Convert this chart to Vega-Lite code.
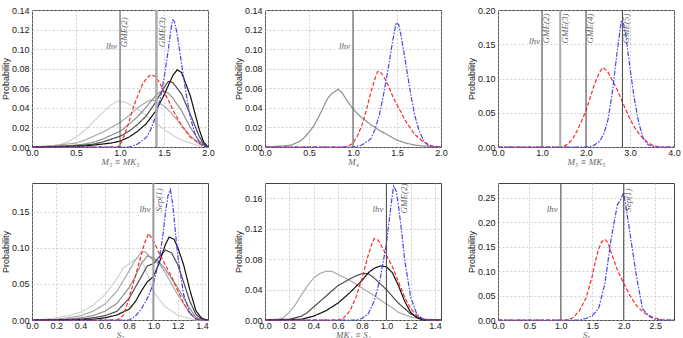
{
"$schema":"https://vega.github.io/schema/vega-lite/v6.json",
"padding":{"left":0,"top":5,"right":2,"bottom":2},
"columns":3,
"bounds":"flush",
"spacing":{"row":36,"column":57},
"config":{"view":{"stroke":"#444","strokeWidth":1},
"axis":{"grid":true,"gridColor":"#bbbbbb","gridDash":[2,2],"gridWidth":0.7,"domain":false,"ticks":false,"tickCount":40,"labelFont":"Liberation Sans","labelFontSize":9,"labelColor":"#222","labelPadding":3,"titleFont":"Liberation Sans","titleFontSize":9,"titleFontWeight":"normal","titleColor":"#222","labelFlush":false,"labelOverlap":false},
"axisX":{"titleFont":"Liberation Serif","titleFontStyle":"italic","titleColor":"#666","titleFontSize":9,"titlePadding":0,"labelPadding":1,"format":".1f"},
"axisY":{"titlePadding":1,"format":".2f"},
"line":{"strokeWidth":1.2},
"text":{"font":"Liberation Serif","fontStyle":"italic","fontSize":9,"color":"#666"}},
"concat":[
{"width":176,"height":137,"layer":[
{"data":{"values":[
{"s":"g1","x":0,"y":0},{"s":"g1","x":0.2,"y":0.001},{"s":"g1","x":0.3,"y":0.002},{"s":"g1","x":0.4,"y":0.005},{"s":"g1","x":0.5,"y":0.01},{"s":"g1","x":0.6,"y":0.017},{"s":"g1","x":0.7,"y":0.026},{"s":"g1","x":0.8,"y":0.035},{"s":"g1","x":0.9,"y":0.043},{"s":"g1","x":0.97,"y":0.047},{"s":"g1","x":1.05,"y":0.046},{"s":"g1","x":1.1,"y":0.044},{"s":"g1","x":1.2,"y":0.039},{"s":"g1","x":1.3,"y":0.032},{"s":"g1","x":1.4,"y":0.025},{"s":"g1","x":1.5,"y":0.018},{"s":"g1","x":1.6,"y":0.012},{"s":"g1","x":1.7,"y":0.007},{"s":"g1","x":1.8,"y":0.004},{"s":"g1","x":1.9,"y":0.001},{"s":"g1","x":2.0,"y":0},
{"s":"g2","x":0,"y":0},{"s":"g2","x":0.2,"y":0.001},{"s":"g2","x":0.4,"y":0.003},{"s":"g2","x":0.5,"y":0.004},{"s":"g2","x":0.6,"y":0.007},{"s":"g2","x":0.7,"y":0.011},{"s":"g2","x":0.8,"y":0.015},{"s":"g2","x":0.9,"y":0.02},{"s":"g2","x":1.0,"y":0.025},{"s":"g2","x":1.1,"y":0.032},{"s":"g2","x":1.2,"y":0.04},{"s":"g2","x":1.3,"y":0.046},{"s":"g2","x":1.35,"y":0.048},{"s":"g2","x":1.4,"y":0.047},{"s":"g2","x":1.5,"y":0.042},{"s":"g2","x":1.6,"y":0.033},{"s":"g2","x":1.7,"y":0.022},{"s":"g2","x":1.8,"y":0.011},{"s":"g2","x":1.9,"y":0.003},{"s":"g2","x":2.0,"y":0},
{"s":"g3","x":0,"y":0},{"s":"g3","x":0.4,"y":0.001},{"s":"g3","x":0.6,"y":0.003},{"s":"g3","x":0.7,"y":0.005},{"s":"g3","x":0.8,"y":0.008},{"s":"g3","x":0.9,"y":0.012},{"s":"g3","x":1.0,"y":0.016},{"s":"g3","x":1.1,"y":0.023},{"s":"g3","x":1.2,"y":0.031},{"s":"g3","x":1.3,"y":0.041},{"s":"g3","x":1.4,"y":0.052},{"s":"g3","x":1.45,"y":0.056},{"s":"g3","x":1.5,"y":0.057},{"s":"g3","x":1.55,"y":0.055},{"s":"g3","x":1.6,"y":0.05},{"s":"g3","x":1.7,"y":0.037},{"s":"g3","x":1.8,"y":0.02},{"s":"g3","x":1.9,"y":0.006},{"s":"g3","x":2.0,"y":0},
{"s":"g4","x":0,"y":0},{"s":"g4","x":0.5,"y":0.001},{"s":"g4","x":0.7,"y":0.003},{"s":"g4","x":0.8,"y":0.005},{"s":"g4","x":0.9,"y":0.008},{"s":"g4","x":1.0,"y":0.011},{"s":"g4","x":1.1,"y":0.016},{"s":"g4","x":1.2,"y":0.023},{"s":"g4","x":1.3,"y":0.032},{"s":"g4","x":1.4,"y":0.045},{"s":"g4","x":1.5,"y":0.061},{"s":"g4","x":1.55,"y":0.067},{"s":"g4","x":1.6,"y":0.066},{"s":"g4","x":1.7,"y":0.054},{"s":"g4","x":1.8,"y":0.033},{"s":"g4","x":1.9,"y":0.011},{"s":"g4","x":1.95,"y":0.003},{"s":"g4","x":2.0,"y":0},
{"s":"g5","x":0,"y":0},{"s":"g5","x":0.6,"y":0.001},{"s":"g5","x":0.8,"y":0.003},{"s":"g5","x":0.9,"y":0.004},{"s":"g5","x":1.0,"y":0.006},{"s":"g5","x":1.1,"y":0.01},{"s":"g5","x":1.2,"y":0.016},{"s":"g5","x":1.3,"y":0.024},{"s":"g5","x":1.4,"y":0.036},{"s":"g5","x":1.5,"y":0.053},{"s":"g5","x":1.6,"y":0.073},{"s":"g5","x":1.65,"y":0.079},{"s":"g5","x":1.7,"y":0.076},{"s":"g5","x":1.8,"y":0.052},{"s":"g5","x":1.9,"y":0.018},{"s":"g5","x":1.95,"y":0.005},{"s":"g5","x":2.0,"y":0},
{"s":"red","x":0,"y":0},{"s":"red","x":0.97,"y":0},{"s":"red","x":1.0,"y":0.002},{"s":"red","x":1.05,"y":0.012},{"s":"red","x":1.1,"y":0.025},{"s":"red","x":1.15,"y":0.04},{"s":"red","x":1.2,"y":0.052},{"s":"red","x":1.25,"y":0.063},{"s":"red","x":1.3,"y":0.07},{"s":"red","x":1.35,"y":0.074},{"s":"red","x":1.4,"y":0.072},{"s":"red","x":1.45,"y":0.066},{"s":"red","x":1.5,"y":0.056},{"s":"red","x":1.55,"y":0.048},{"s":"red","x":1.6,"y":0.038},{"s":"red","x":1.7,"y":0.022},{"s":"red","x":1.8,"y":0.01},{"s":"red","x":1.9,"y":0.004},{"s":"red","x":1.95,"y":0.001},{"s":"red","x":2.0,"y":0},
{"s":"blue","x":0,"y":0},{"s":"blue","x":1.1,"y":0},{"s":"blue","x":1.2,"y":0.003},{"s":"blue","x":1.3,"y":0.01},{"s":"blue","x":1.35,"y":0.018},{"s":"blue","x":1.4,"y":0.03},{"s":"blue","x":1.45,"y":0.046},{"s":"blue","x":1.5,"y":0.07},{"s":"blue","x":1.55,"y":0.1},{"s":"blue","x":1.58,"y":0.121},{"s":"blue","x":1.6,"y":0.13},{"s":"blue","x":1.62,"y":0.128},{"s":"blue","x":1.65,"y":0.115},{"s":"blue","x":1.7,"y":0.085},{"s":"blue","x":1.75,"y":0.055},{"s":"blue","x":1.8,"y":0.03},{"s":"blue","x":1.85,"y":0.014},{"s":"blue","x":1.9,"y":0.005},{"s":"blue","x":1.95,"y":0.001},{"s":"blue","x":2.0,"y":0}
]},"mark":"line","encoding":{
"x":{"field":"x","type":"quantitative","scale":{"domain":[0,2],"nice":false},"axis":{"title":"M₃ ≡ MK₃","values":[0,0.5,1,1.5,2]}},
"y":{"field":"y","type":"quantitative","scale":{"domain":[0,0.14],"nice":false},"axis":{"title":"Probability","values":[0,0.02,0.04,0.06,0.08,0.1,0.12,0.14]}},
"color":{"field":"s","type":"nominal","scale":{"domain":["g1","g2","g3","g4","g5","red","blue"],"range":["#d2d2d2","#aaaaaa","#909090","#4d4d4d","#111111","#ff2a2a","#4646f0"]},"legend":null},
"strokeDash":{"field":"s","type":"nominal","scale":{"domain":["g1","g2","g3","g4","g5","red","blue"],"range":[[1,0],[1,0],[1,0],[1,0],[1,0],[4,2],[5,1.5,1.5,1.5]]},"legend":null},
"order":{"field":"x","type":"quantitative"}}},
{"data":{"values":[{"x":1.0,"n":"lhv"}]},"mark":{"type":"rule","color":"#555","strokeWidth":1},"encoding":{"x":{"field":"x","type":"quantitative"}}},
{"data":{"values":[{"x":1.414,"n":"GME(3)"}]},"mark":{"type":"rule","color":"#aaaaaa","strokeWidth":2.5},"encoding":{"x":{"field":"x","type":"quantitative"}}},
{"data":{"values":[{"x":1.0,"y":0.1,"t":"lhv"}]},"mark":{"type":"text","align":"right","baseline":"alphabetic","dx":-3},"encoding":{"x":{"field":"x","type":"quantitative"},"y":{"field":"y","type":"quantitative"},"text":{"field":"t"}}},
{"data":{"values":[{"x":1.0,"y":0.102,"t":"GME(2)"},{"x":1.43,"y":0.102,"t":"GME(3)"}]},"mark":{"type":"text","angle":270,"align":"left","baseline":"top"},"encoding":{"x":{"field":"x","type":"quantitative"},"y":{"field":"y","type":"quantitative"},"text":{"field":"t"}}}
]},
{"width":176,"height":137,"layer":[
{"data":{"values":[
{"s":"g3","x":0,"y":0},{"s":"g3","x":0.2,"y":0.001},{"s":"g3","x":0.3,"y":0.002},{"s":"g3","x":0.4,"y":0.006},{"s":"g3","x":0.45,"y":0.01},{"s":"g3","x":0.5,"y":0.015},{"s":"g3","x":0.55,"y":0.021},{"s":"g3","x":0.6,"y":0.029},{"s":"g3","x":0.65,"y":0.038},{"s":"g3","x":0.7,"y":0.048},{"s":"g3","x":0.75,"y":0.054},{"s":"g3","x":0.8,"y":0.057},{"s":"g3","x":0.83,"y":0.059},{"s":"g3","x":0.87,"y":0.056},{"s":"g3","x":0.9,"y":0.052},{"s":"g3","x":0.95,"y":0.045},{"s":"g3","x":1.0,"y":0.039},{"s":"g3","x":1.05,"y":0.034},{"s":"g3","x":1.1,"y":0.03},{"s":"g3","x":1.2,"y":0.023},{"s":"g3","x":1.3,"y":0.017},{"s":"g3","x":1.4,"y":0.012},{"s":"g3","x":1.5,"y":0.007},{"s":"g3","x":1.6,"y":0.004},{"s":"g3","x":1.7,"y":0.002},{"s":"g3","x":1.8,"y":0.001},{"s":"g3","x":2.0,"y":0},
{"s":"red","x":0,"y":0},{"s":"red","x":0.9,"y":0},{"s":"red","x":0.95,"y":0.001},{"s":"red","x":1.0,"y":0.004},{"s":"red","x":1.05,"y":0.011},{"s":"red","x":1.1,"y":0.022},{"s":"red","x":1.15,"y":0.037},{"s":"red","x":1.2,"y":0.055},{"s":"red","x":1.25,"y":0.07},{"s":"red","x":1.28,"y":0.077},{"s":"red","x":1.31,"y":0.077},{"s":"red","x":1.35,"y":0.072},{"s":"red","x":1.4,"y":0.063},{"s":"red","x":1.45,"y":0.052},{"s":"red","x":1.5,"y":0.043},{"s":"red","x":1.55,"y":0.035},{"s":"red","x":1.6,"y":0.026},{"s":"red","x":1.7,"y":0.013},{"s":"red","x":1.8,"y":0.005},{"s":"red","x":1.9,"y":0.001},{"s":"red","x":2.0,"y":0},
{"s":"blue","x":0,"y":0},{"s":"blue","x":1.0,"y":0},{"s":"blue","x":1.1,"y":0.002},{"s":"blue","x":1.2,"y":0.008},{"s":"blue","x":1.25,"y":0.018},{"s":"blue","x":1.3,"y":0.033},{"s":"blue","x":1.35,"y":0.055},{"s":"blue","x":1.4,"y":0.08},{"s":"blue","x":1.45,"y":0.108},{"s":"blue","x":1.49,"y":0.127},{"s":"blue","x":1.52,"y":0.125},{"s":"blue","x":1.55,"y":0.112},{"s":"blue","x":1.6,"y":0.085},{"s":"blue","x":1.65,"y":0.057},{"s":"blue","x":1.7,"y":0.033},{"s":"blue","x":1.75,"y":0.017},{"s":"blue","x":1.8,"y":0.007},{"s":"blue","x":1.85,"y":0.002},{"s":"blue","x":1.9,"y":0},{"s":"blue","x":2.0,"y":0}
]},"mark":"line","encoding":{
"x":{"field":"x","type":"quantitative","scale":{"domain":[0,2],"nice":false},"axis":{"title":"M₄","values":[0,0.5,1,1.5,2]}},
"y":{"field":"y","type":"quantitative","scale":{"domain":[0,0.14],"nice":false},"axis":{"title":"Probability","values":[0,0.02,0.04,0.06,0.08,0.1,0.12,0.14]}},
"color":{"field":"s","type":"nominal","scale":{"domain":["g1","g2","g3","g4","g5","red","blue"],"range":["#d2d2d2","#aaaaaa","#909090","#4d4d4d","#111111","#ff2a2a","#4646f0"]},"legend":null},
"strokeDash":{"field":"s","type":"nominal","scale":{"domain":["g1","g2","g3","g4","g5","red","blue"],"range":[[1,0],[1,0],[1,0],[1,0],[1,0],[4,2],[5,1.5,1.5,1.5]]},"legend":null},
"order":{"field":"x","type":"quantitative"}}},
{"data":{"values":[{"x":1.0,"n":"lhv"}]},"mark":{"type":"rule","color":"#666","strokeWidth":1.2},"encoding":{"x":{"field":"x","type":"quantitative"}}},
{"data":{"values":[{"x":1.0,"y":0.1,"t":"lhv"}]},"mark":{"type":"text","align":"right","baseline":"alphabetic","dx":-3},"encoding":{"x":{"field":"x","type":"quantitative"},"y":{"field":"y","type":"quantitative"},"text":{"field":"t"}}}
]},
{"width":176,"height":137,"layer":[
{"data":{"values":[
{"s":"red","x":0,"y":0},{"s":"red","x":1.4,"y":0},{"s":"red","x":1.5,"y":0.001},{"s":"red","x":1.6,"y":0.005},{"s":"red","x":1.7,"y":0.012},{"s":"red","x":1.8,"y":0.024},{"s":"red","x":1.9,"y":0.038},{"s":"red","x":2.0,"y":0.053},{"s":"red","x":2.1,"y":0.073},{"s":"red","x":2.2,"y":0.093},{"s":"red","x":2.3,"y":0.108},{"s":"red","x":2.38,"y":0.116},{"s":"red","x":2.45,"y":0.113},{"s":"red","x":2.5,"y":0.109},{"s":"red","x":2.6,"y":0.097},{"s":"red","x":2.7,"y":0.085},{"s":"red","x":2.8,"y":0.07},{"s":"red","x":2.9,"y":0.055},{"s":"red","x":3.0,"y":0.041},{"s":"red","x":3.1,"y":0.029},{"s":"red","x":3.2,"y":0.02},{"s":"red","x":3.3,"y":0.012},{"s":"red","x":3.4,"y":0.007},{"s":"red","x":3.5,"y":0.003},{"s":"red","x":3.6,"y":0.001},{"s":"red","x":3.7,"y":0},{"s":"red","x":4.0,"y":0},
{"s":"blue","x":0,"y":0},{"s":"blue","x":2.0,"y":0},{"s":"blue","x":2.1,"y":0.001},{"s":"blue","x":2.2,"y":0.003},{"s":"blue","x":2.3,"y":0.008},{"s":"blue","x":2.4,"y":0.018},{"s":"blue","x":2.5,"y":0.04},{"s":"blue","x":2.6,"y":0.08},{"s":"blue","x":2.7,"y":0.135},{"s":"blue","x":2.8,"y":0.183},{"s":"blue","x":2.85,"y":0.181},{"s":"blue","x":2.9,"y":0.165},{"s":"blue","x":3.0,"y":0.115},{"s":"blue","x":3.1,"y":0.07},{"s":"blue","x":3.2,"y":0.035},{"s":"blue","x":3.3,"y":0.013},{"s":"blue","x":3.4,"y":0.004},{"s":"blue","x":3.5,"y":0.001},{"s":"blue","x":3.6,"y":0},{"s":"blue","x":4.0,"y":0}
]},"mark":"line","encoding":{
"x":{"field":"x","type":"quantitative","scale":{"domain":[0,4],"nice":false},"axis":{"title":"M₅ ≡ MK₅","values":[0,1,2,3,4]}},
"y":{"field":"y","type":"quantitative","scale":{"domain":[0,0.2],"nice":false},"axis":{"title":"Probability","values":[0,0.05,0.1,0.15,0.2]}},
"color":{"field":"s","type":"nominal","scale":{"domain":["g1","g2","g3","g4","g5","red","blue"],"range":["#d2d2d2","#aaaaaa","#909090","#4d4d4d","#111111","#ff2a2a","#4646f0"]},"legend":null},
"strokeDash":{"field":"s","type":"nominal","scale":{"domain":["g1","g2","g3","g4","g5","red","blue"],"range":[[1,0],[1,0],[1,0],[1,0],[1,0],[4,2],[5,1.5,1.5,1.5]]},"legend":null},
"order":{"field":"x","type":"quantitative"}}},
{"data":{"values":[{"x":1.0,"n":"lhv"},{"x":2.0,"n":"GME(4)"},{"x":2.828,"n":"GME(5)"}]},"mark":{"type":"rule","color":"#444","strokeWidth":1},"encoding":{"x":{"field":"x","type":"quantitative"}}},
{"data":{"values":[{"x":1.414,"n":"GME(3)"}]},"mark":{"type":"rule","color":"#aaaaaa","strokeWidth":2},"encoding":{"x":{"field":"x","type":"quantitative"}}},
{"data":{"values":[{"x":1.0,"y":0.15,"t":"lhv"}]},"mark":{"type":"text","align":"right","baseline":"alphabetic","dx":-2},"encoding":{"x":{"field":"x","type":"quantitative"},"y":{"field":"y","type":"quantitative"},"text":{"field":"t"}}},
{"data":{"values":[{"x":1.0,"y":0.151,"t":"GME(2)"},{"x":1.43,"y":0.151,"t":"GME(3)"},{"x":2.0,"y":0.151,"t":"GME(4)"},{"x":2.828,"y":0.151,"t":"GME(5)"}]},"mark":{"type":"text","angle":270,"align":"left","baseline":"top"},"encoding":{"x":{"field":"x","type":"quantitative"},"y":{"field":"y","type":"quantitative"},"text":{"field":"t"}}}
]},
{"width":176,"height":137,"layer":[
{"data":{"values":[
{"s":"g1","x":0,"y":0},{"s":"g1","x":0.1,"y":0.001},{"s":"g1","x":0.2,"y":0.003},{"s":"g1","x":0.3,"y":0.006},{"s":"g1","x":0.4,"y":0.011},{"s":"g1","x":0.5,"y":0.02},{"s":"g1","x":0.6,"y":0.035},{"s":"g1","x":0.7,"y":0.057},{"s":"g1","x":0.75,"y":0.072},{"s":"g1","x":0.8,"y":0.078},{"s":"g1","x":0.85,"y":0.084},{"s":"g1","x":0.88,"y":0.086},{"s":"g1","x":0.92,"y":0.076},{"s":"g1","x":0.97,"y":0.055},{"s":"g1","x":1.0,"y":0.04},{"s":"g1","x":1.05,"y":0.028},{"s":"g1","x":1.1,"y":0.018},{"s":"g1","x":1.2,"y":0.007},{"s":"g1","x":1.3,"y":0.002},{"s":"g1","x":1.35,"y":0},{"s":"g1","x":1.45,"y":0},
{"s":"g2","x":0,"y":0},{"s":"g2","x":0.2,"y":0.001},{"s":"g2","x":0.3,"y":0.003},{"s":"g2","x":0.4,"y":0.006},{"s":"g2","x":0.5,"y":0.012},{"s":"g2","x":0.6,"y":0.022},{"s":"g2","x":0.7,"y":0.04},{"s":"g2","x":0.8,"y":0.068},{"s":"g2","x":0.85,"y":0.083},{"s":"g2","x":0.9,"y":0.094},{"s":"g2","x":0.93,"y":0.095},{"s":"g2","x":0.97,"y":0.088},{"s":"g2","x":1.0,"y":0.082},{"s":"g2","x":1.05,"y":0.078},{"s":"g2","x":1.1,"y":0.065},{"s":"g2","x":1.2,"y":0.035},{"s":"g2","x":1.3,"y":0.01},{"s":"g2","x":1.35,"y":0.002},{"s":"g2","x":1.4,"y":0},{"s":"g2","x":1.45,"y":0},
{"s":"g3","x":0,"y":0},{"s":"g3","x":0.3,"y":0.001},{"s":"g3","x":0.4,"y":0.003},{"s":"g3","x":0.5,"y":0.006},{"s":"g3","x":0.6,"y":0.012},{"s":"g3","x":0.7,"y":0.023},{"s":"g3","x":0.8,"y":0.045},{"s":"g3","x":0.85,"y":0.06},{"s":"g3","x":0.9,"y":0.078},{"s":"g3","x":0.95,"y":0.089},{"s":"g3","x":1.0,"y":0.086},{"s":"g3","x":1.05,"y":0.08},{"s":"g3","x":1.1,"y":0.07},{"s":"g3","x":1.2,"y":0.045},{"s":"g3","x":1.3,"y":0.016},{"s":"g3","x":1.35,"y":0.004},{"s":"g3","x":1.4,"y":0},{"s":"g3","x":1.45,"y":0},
{"s":"g4","x":0,"y":0},{"s":"g4","x":0.4,"y":0.001},{"s":"g4","x":0.5,"y":0.003},{"s":"g4","x":0.6,"y":0.006},{"s":"g4","x":0.7,"y":0.012},{"s":"g4","x":0.8,"y":0.03},{"s":"g4","x":0.85,"y":0.045},{"s":"g4","x":0.9,"y":0.06},{"s":"g4","x":0.95,"y":0.075},{"s":"g4","x":1.0,"y":0.078},{"s":"g4","x":1.05,"y":0.088},{"s":"g4","x":1.1,"y":0.097},{"s":"g4","x":1.15,"y":0.093},{"s":"g4","x":1.2,"y":0.077},{"s":"g4","x":1.25,"y":0.052},{"s":"g4","x":1.3,"y":0.026},{"s":"g4","x":1.35,"y":0.008},{"s":"g4","x":1.4,"y":0.001},{"s":"g4","x":1.45,"y":0},
{"s":"g5","x":0,"y":0},{"s":"g5","x":0.5,"y":0.001},{"s":"g5","x":0.6,"y":0.003},{"s":"g5","x":0.7,"y":0.007},{"s":"g5","x":0.8,"y":0.015},{"s":"g5","x":0.85,"y":0.025},{"s":"g5","x":0.9,"y":0.04},{"s":"g5","x":0.95,"y":0.053},{"s":"g5","x":1.0,"y":0.06},{"s":"g5","x":1.05,"y":0.08},{"s":"g5","x":1.1,"y":0.105},{"s":"g5","x":1.13,"y":0.115},{"s":"g5","x":1.17,"y":0.112},{"s":"g5","x":1.2,"y":0.101},{"s":"g5","x":1.25,"y":0.076},{"s":"g5","x":1.3,"y":0.042},{"s":"g5","x":1.35,"y":0.013},{"s":"g5","x":1.4,"y":0.002},{"s":"g5","x":1.45,"y":0},
{"s":"red","x":0,"y":0},{"s":"red","x":0.7,"y":0},{"s":"red","x":0.75,"y":0.006},{"s":"red","x":0.8,"y":0.03},{"s":"red","x":0.85,"y":0.06},{"s":"red","x":0.9,"y":0.09},{"s":"red","x":0.93,"y":0.108},{"s":"red","x":0.96,"y":0.12},{"s":"red","x":1.0,"y":0.11},{"s":"red","x":1.05,"y":0.092},{"s":"red","x":1.1,"y":0.076},{"s":"red","x":1.15,"y":0.06},{"s":"red","x":1.2,"y":0.041},{"s":"red","x":1.25,"y":0.023},{"s":"red","x":1.3,"y":0.009},{"s":"red","x":1.35,"y":0.002},{"s":"red","x":1.4,"y":0},{"s":"red","x":1.45,"y":0},
{"s":"blue","x":0,"y":0},{"s":"blue","x":0.8,"y":0},{"s":"blue","x":0.85,"y":0.005},{"s":"blue","x":0.9,"y":0.015},{"s":"blue","x":0.95,"y":0.03},{"s":"blue","x":1.0,"y":0.05},{"s":"blue","x":1.05,"y":0.085},{"s":"blue","x":1.08,"y":0.12},{"s":"blue","x":1.1,"y":0.15},{"s":"blue","x":1.12,"y":0.172},{"s":"blue","x":1.14,"y":0.181},{"s":"blue","x":1.16,"y":0.16},{"s":"blue","x":1.18,"y":0.125},{"s":"blue","x":1.2,"y":0.09},{"s":"blue","x":1.25,"y":0.035},{"s":"blue","x":1.3,"y":0.01},{"s":"blue","x":1.35,"y":0.001},{"s":"blue","x":1.4,"y":0},{"s":"blue","x":1.45,"y":0}
]},"mark":"line","encoding":{
"x":{"field":"x","type":"quantitative","scale":{"domain":[0,1.45],"nice":false},"axis":{"title":"S₃","values":[0,0.2,0.4,0.6,0.8,1,1.2,1.4]}},
"y":{"field":"y","type":"quantitative","scale":{"domain":[0,0.19],"nice":false},"axis":{"title":"Probability","values":[0,0.05,0.1,0.15]}},
"color":{"field":"s","type":"nominal","scale":{"domain":["g1","g2","g3","g4","g5","red","blue"],"range":["#d2d2d2","#aaaaaa","#909090","#4d4d4d","#111111","#ff2a2a","#4646f0"]},"legend":null},
"strokeDash":{"field":"s","type":"nominal","scale":{"domain":["g1","g2","g3","g4","g5","red","blue"],"range":[[1,0],[1,0],[1,0],[1,0],[1,0],[4,2],[5,1.5,1.5,1.5]]},"legend":null},
"order":{"field":"x","type":"quantitative"}}},
{"data":{"values":[{"x":1.0,"n":"lhv"}]},"mark":{"type":"rule","color":"#999","strokeWidth":2},"encoding":{"x":{"field":"x","type":"quantitative"}}},
{"data":{"values":[{"x":1.0,"y":0.15,"t":"lhv"}]},"mark":{"type":"text","align":"right","baseline":"alphabetic","dx":-3},"encoding":{"x":{"field":"x","type":"quantitative"},"y":{"field":"y","type":"quantitative"},"text":{"field":"t"}}},
{"data":{"values":[{"x":1.01,"y":0.15,"t":"Sep(1)"}]},"mark":{"type":"text","angle":270,"align":"left","baseline":"top"},"encoding":{"x":{"field":"x","type":"quantitative"},"y":{"field":"y","type":"quantitative"},"text":{"field":"t"}}}
]},
{"width":176,"height":137,"layer":[
{"data":{"values":[
{"s":"g2","x":0,"y":0},{"s":"g2","x":0.1,"y":0.001},{"s":"g2","x":0.15,"y":0.003},{"s":"g2","x":0.2,"y":0.01},{"s":"g2","x":0.25,"y":0.02},{"s":"g2","x":0.3,"y":0.033},{"s":"g2","x":0.35,"y":0.045},{"s":"g2","x":0.4,"y":0.055},{"s":"g2","x":0.45,"y":0.061},{"s":"g2","x":0.5,"y":0.064},{"s":"g2","x":0.55,"y":0.064},{"s":"g2","x":0.6,"y":0.06},{"s":"g2","x":0.7,"y":0.052},{"s":"g2","x":0.8,"y":0.042},{"s":"g2","x":0.9,"y":0.032},{"s":"g2","x":1.0,"y":0.021},{"s":"g2","x":1.05,"y":0.016},{"s":"g2","x":1.1,"y":0.01},{"s":"g2","x":1.2,"y":0.004},{"s":"g2","x":1.3,"y":0.001},{"s":"g2","x":1.35,"y":0},{"s":"g2","x":1.45,"y":0},
{"s":"g4","x":0,"y":0},{"s":"g4","x":0.2,"y":0.001},{"s":"g4","x":0.3,"y":0.005},{"s":"g4","x":0.35,"y":0.01},{"s":"g4","x":0.4,"y":0.017},{"s":"g4","x":0.5,"y":0.031},{"s":"g4","x":0.6,"y":0.045},{"s":"g4","x":0.7,"y":0.054},{"s":"g4","x":0.75,"y":0.058},{"s":"g4","x":0.8,"y":0.061},{"s":"g4","x":0.85,"y":0.061},{"s":"g4","x":0.9,"y":0.055},{"s":"g4","x":1.0,"y":0.04},{"s":"g4","x":1.1,"y":0.022},{"s":"g4","x":1.2,"y":0.008},{"s":"g4","x":1.3,"y":0.001},{"s":"g4","x":1.45,"y":0},
{"s":"g5","x":0,"y":0},{"s":"g5","x":0.3,"y":0.001},{"s":"g5","x":0.4,"y":0.005},{"s":"g5","x":0.5,"y":0.012},{"s":"g5","x":0.6,"y":0.022},{"s":"g5","x":0.7,"y":0.036},{"s":"g5","x":0.8,"y":0.052},{"s":"g5","x":0.85,"y":0.062},{"s":"g5","x":0.9,"y":0.068},{"s":"g5","x":0.95,"y":0.071},{"s":"g5","x":1.0,"y":0.07},{"s":"g5","x":1.05,"y":0.062},{"s":"g5","x":1.1,"y":0.045},{"s":"g5","x":1.15,"y":0.025},{"s":"g5","x":1.2,"y":0.01},{"s":"g5","x":1.25,"y":0.003},{"s":"g5","x":1.3,"y":0},{"s":"g5","x":1.45,"y":0},
{"s":"red","x":0,"y":0},{"s":"red","x":0.6,"y":0},{"s":"red","x":0.65,"y":0.003},{"s":"red","x":0.7,"y":0.012},{"s":"red","x":0.75,"y":0.03},{"s":"red","x":0.8,"y":0.055},{"s":"red","x":0.85,"y":0.085},{"s":"red","x":0.88,"y":0.1},{"s":"red","x":0.9,"y":0.107},{"s":"red","x":0.93,"y":0.105},{"s":"red","x":0.95,"y":0.1},{"s":"red","x":1.0,"y":0.085},{"s":"red","x":1.05,"y":0.07},{"s":"red","x":1.1,"y":0.05},{"s":"red","x":1.15,"y":0.03},{"s":"red","x":1.2,"y":0.015},{"s":"red","x":1.25,"y":0.006},{"s":"red","x":1.3,"y":0.002},{"s":"red","x":1.35,"y":0},{"s":"red","x":1.45,"y":0},
{"s":"blue","x":0,"y":0},{"s":"blue","x":0.75,"y":0},{"s":"blue","x":0.8,"y":0.002},{"s":"blue","x":0.85,"y":0.008},{"s":"blue","x":0.9,"y":0.025},{"s":"blue","x":0.95,"y":0.055},{"s":"blue","x":1.0,"y":0.1},{"s":"blue","x":1.03,"y":0.14},{"s":"blue","x":1.05,"y":0.165},{"s":"blue","x":1.06,"y":0.176},{"s":"blue","x":1.08,"y":0.17},{"s":"blue","x":1.1,"y":0.15},{"s":"blue","x":1.13,"y":0.11},{"s":"blue","x":1.15,"y":0.08},{"s":"blue","x":1.2,"y":0.03},{"s":"blue","x":1.25,"y":0.008},{"s":"blue","x":1.3,"y":0.001},{"s":"blue","x":1.35,"y":0},{"s":"blue","x":1.45,"y":0}
]},"mark":"line","encoding":{
"x":{"field":"x","type":"quantitative","scale":{"domain":[0,1.45],"nice":false},"axis":{"title":"MK₄ ≡ S₄","values":[0,0.2,0.4,0.6,0.8,1,1.2,1.4]}},
"y":{"field":"y","type":"quantitative","scale":{"domain":[0,0.18],"nice":false},"axis":{"title":"Probability","values":[0,0.04,0.08,0.12,0.16]}},
"color":{"field":"s","type":"nominal","scale":{"domain":["g1","g2","g3","g4","g5","red","blue"],"range":["#d2d2d2","#aaaaaa","#909090","#4d4d4d","#111111","#ff2a2a","#4646f0"]},"legend":null},
"strokeDash":{"field":"s","type":"nominal","scale":{"domain":["g1","g2","g3","g4","g5","red","blue"],"range":[[1,0],[1,0],[1,0],[1,0],[1,0],[4,2],[5,1.5,1.5,1.5]]},"legend":null},
"order":{"field":"x","type":"quantitative"}}},
{"data":{"values":[{"x":1.0,"n":"lhv"}]},"mark":{"type":"rule","color":"#444","strokeWidth":1},"encoding":{"x":{"field":"x","type":"quantitative"}}},
{"data":{"values":[{"x":1.0,"y":0.142,"t":"lhv"}]},"mark":{"type":"text","align":"right","baseline":"alphabetic","dx":-3},"encoding":{"x":{"field":"x","type":"quantitative"},"y":{"field":"y","type":"quantitative"},"text":{"field":"t"}}},
{"data":{"values":[{"x":1.115,"y":0.14,"t":"GME(2)"}]},"mark":{"type":"text","angle":270,"align":"left","baseline":"top"},"encoding":{"x":{"field":"x","type":"quantitative"},"y":{"field":"y","type":"quantitative"},"text":{"field":"t"}}}
]},
{"width":176,"height":137,"layer":[
{"data":{"values":[
{"s":"red","x":0,"y":0},{"s":"red","x":1.1,"y":0},{"s":"red","x":1.2,"y":0.005},{"s":"red","x":1.3,"y":0.02},{"s":"red","x":1.4,"y":0.045},{"s":"red","x":1.5,"y":0.09},{"s":"red","x":1.55,"y":0.12},{"s":"red","x":1.6,"y":0.145},{"s":"red","x":1.65,"y":0.16},{"s":"red","x":1.7,"y":0.165},{"s":"red","x":1.75,"y":0.158},{"s":"red","x":1.8,"y":0.138},{"s":"red","x":1.85,"y":0.12},{"s":"red","x":1.9,"y":0.102},{"s":"red","x":2.0,"y":0.075},{"s":"red","x":2.1,"y":0.05},{"s":"red","x":2.2,"y":0.03},{"s":"red","x":2.3,"y":0.017},{"s":"red","x":2.4,"y":0.009},{"s":"red","x":2.5,"y":0.004},{"s":"red","x":2.6,"y":0.001},{"s":"red","x":2.7,"y":0},{"s":"red","x":2.8,"y":0},
{"s":"blue","x":0,"y":0},{"s":"blue","x":1.3,"y":0},{"s":"blue","x":1.4,"y":0.003},{"s":"blue","x":1.5,"y":0.009},{"s":"blue","x":1.6,"y":0.023},{"s":"blue","x":1.7,"y":0.074},{"s":"blue","x":1.8,"y":0.166},{"s":"blue","x":1.9,"y":0.236},{"s":"blue","x":1.95,"y":0.245},{"s":"blue","x":2.0,"y":0.261},{"s":"blue","x":2.1,"y":0.177},{"s":"blue","x":2.2,"y":0.091},{"s":"blue","x":2.3,"y":0.023},{"s":"blue","x":2.4,"y":0.008},{"s":"blue","x":2.5,"y":0.001},{"s":"blue","x":2.6,"y":0},{"s":"blue","x":2.8,"y":0}
]},"mark":"line","encoding":{
"x":{"field":"x","type":"quantitative","scale":{"domain":[0,2.8],"nice":false},"axis":{"title":"S₅","values":[0,0.5,1,1.5,2,2.5]}},
"y":{"field":"y","type":"quantitative","scale":{"domain":[0,0.28],"nice":false},"axis":{"title":"Probability","values":[0,0.05,0.1,0.15,0.2,0.25]}},
"color":{"field":"s","type":"nominal","scale":{"domain":["g1","g2","g3","g4","g5","red","blue"],"range":["#d2d2d2","#aaaaaa","#909090","#4d4d4d","#111111","#ff2a2a","#4646f0"]},"legend":null},
"strokeDash":{"field":"s","type":"nominal","scale":{"domain":["g1","g2","g3","g4","g5","red","blue"],"range":[[1,0],[1,0],[1,0],[1,0],[1,0],[4,2],[5,1.5,1.5,1.5]]},"legend":null},
"order":{"field":"x","type":"quantitative"}}},
{"data":{"values":[{"x":1.0,"n":"lhv"},{"x":2.0,"n":"Sep(1)"}]},"mark":{"type":"rule","color":"#444","strokeWidth":1},"encoding":{"x":{"field":"x","type":"quantitative"}}},
{"data":{"values":[{"x":1.0,"y":0.221,"t":"lhv"}]},"mark":{"type":"text","align":"right","baseline":"alphabetic","dx":-3},"encoding":{"x":{"field":"x","type":"quantitative"},"y":{"field":"y","type":"quantitative"},"text":{"field":"t"}}},
{"data":{"values":[{"x":2.0,"y":0.221,"t":"Sep(1)"}]},"mark":{"type":"text","angle":270,"align":"left","baseline":"top"},"encoding":{"x":{"field":"x","type":"quantitative"},"y":{"field":"y","type":"quantitative"},"text":{"field":"t"}}}
]}
]
}
